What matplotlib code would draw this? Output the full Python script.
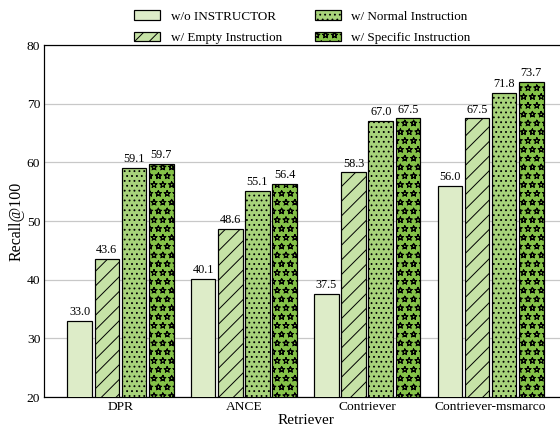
import numpy as np
import matplotlib
matplotlib.use('Agg')
import matplotlib.pyplot as plt
import matplotlib.hatch as mhatch
from matplotlib.path import Path

retrievers = ['DPR', 'ANCE', 'Contriever', 'Contriever-msmarco']
series_names = ['w/o INSTRUCTOR', 'w/ Empty Instruction',
                'w/ Normal Instruction', 'w/ Specific Instruction']
wo_instructor = [33.0, 40.1, 37.5, 56.0]
empty_instr = [43.6, 48.6, 58.3, 67.5]
normal_instr = [59.1, 55.1, 67.0, 71.8]
specific_instr = [59.7, 56.4, 67.5, 73.7]

colors = ['#ddecc8', '#c6e2a6', '#a8d37b', '#85c248']
hatches = ['', '//', '...', '*']


# sparser star hatch than the default one (row count must be even)
class SparseStars(mhatch.Shapes):
    size = 1.0 / 3.0
    filled = False

    def __init__(self, hatch, density):
        self.num_rows = hatch.count('*') * 10
        path = Path.unit_regular_star(5)
        self.shape_vertices = path.vertices
        self.shape_codes = np.full(len(self.shape_vertices), Path.LINETO,
                                   dtype=Path.code_type)
        self.shape_codes[0] = Path.MOVETO
        super().__init__(hatch, density)


mhatch._hatch_types = [SparseStars if t is mhatch.Stars else t
                       for t in mhatch._hatch_types]

plt.rcParams['font.family'] = ['Liberation Serif', 'DejaVu Serif']
plt.rcParams['hatch.linewidth'] = 0.8

fig = plt.figure(figsize=(560 / 88, 428 / 88), dpi=88)
ax = fig.add_axes([0.0786, 0.0724, 0.934, 0.822])

x = np.arange(len(retrievers))
width = 0.2
step = 0.22
all_series = [wo_instructor, empty_instr, normal_instr, specific_instr]

for i, vals in enumerate(all_series):
    pos = x + (i - 1.5) * step
    bars = ax.bar(pos, vals, width, color=colors[i], hatch=hatches[i],
                  edgecolor='black', linewidth=1.0, label=series_names[i],
                  zorder=3)
    for b, v in zip(bars, vals):
        ax.text(b.get_x() + b.get_width() / 2, v + 0.5, f'{v:.1f}',
                ha='center', va='bottom', fontsize=10)

ax.set_ylim(20, 80)
ax.set_xlim(-0.62, 3.62)
ax.set_xticks(x)
ax.set_xticklabels(retrievers)
ax.set_yticks(np.arange(20, 81, 10))
ax.tick_params(axis='both', length=0, labelsize=11, pad=3)
ax.yaxis.grid(True, color='#c8c8c8', linewidth=1.0, zorder=0)
ax.set_axisbelow(True)
ax.spines['right'].set_visible(False)
for s in ['left', 'bottom', 'top']:
    ax.spines[s].set_color('black')
    ax.spines[s].set_linewidth(1.0)

ax.set_xlabel('Retriever', fontsize=12.5, labelpad=1)
ax.set_ylabel('Recall@100', fontsize=13, labelpad=1.5)

ax.legend(loc='lower center', bbox_to_anchor=(0.494, 0.989), ncol=2,
          frameon=False, fontsize=10.7, handlelength=2.0, handleheight=0.7,
          columnspacing=2.5, labelspacing=0.7, borderaxespad=0)

fig.savefig('out.png', dpi=88)
